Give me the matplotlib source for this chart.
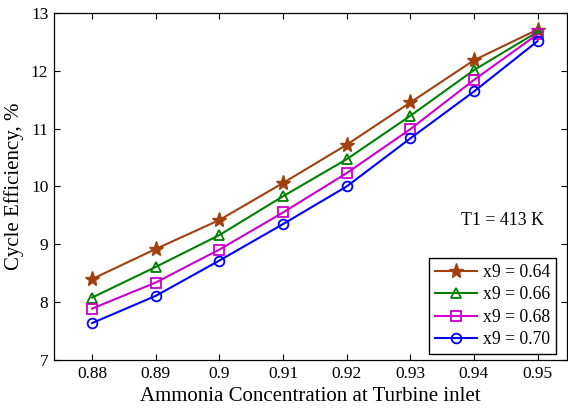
import matplotlib
matplotlib.use("Agg")
import matplotlib.pyplot as plt

# data
conc = [0.88, 0.89, 0.90, 0.91, 0.92, 0.93, 0.94, 0.95]
eff_064 = [8.40, 8.92, 9.42, 10.06, 10.72, 11.45, 12.18, 12.71]
eff_066 = [8.08, 8.61, 9.16, 9.83, 10.47, 11.22, 12.01, 12.67]
eff_068 = [7.89, 8.34, 8.91, 9.55, 10.23, 10.99, 11.84, 12.63]
eff_070 = [7.64, 8.11, 8.72, 9.35, 10.00, 10.83, 11.64, 12.51]
labels = ["x9 = 0.64", "x9 = 0.66", "x9 = 0.68", "x9 = 0.70"]
xticks = [0.88, 0.89, 0.90, 0.91, 0.92, 0.93, 0.94, 0.95]
xtick_labels = ["0.88", "0.89", "0.9", "0.91", "0.92", "0.93", "0.94", "0.95"]
yticks = [7, 8, 9, 10, 11, 12, 13]


def main():
    plt.rcParams['font.family'] = ['Liberation Serif', 'DejaVu Serif']
    fig = plt.figure(figsize=(5.68, 4.12), dpi=100)
    ax = fig.add_axes([0.095, 0.126, 0.903, 0.843])

    styles = [
        (eff_064, '#a0410d', '*', 11),
        (eff_066, '#008000', '^', 7.5),
        (eff_068, '#cc00cc', 's', 7),
        (eff_070, '#0000ff', 'o', 7),
    ]
    for (vals, col, mk, ms), lab in zip(styles, labels):
        if mk == '*':
            ax.plot(conc, vals, color=col, marker=mk, markersize=ms,
                    linewidth=1.5, label=lab)
        else:
            ax.plot(conc, vals, color=col, marker=mk, markersize=ms,
                    markerfacecolor='none', markeredgewidth=1.3,
                    linewidth=1.5, label=lab)

    ax.set_xlim(0.874, 0.9546)
    ax.set_ylim(7, 13)
    ax.set_xticks(xticks)
    ax.set_xticklabels(xtick_labels)
    ax.set_yticks(yticks)
    ax.tick_params(direction='in', top=True, right=True, labelsize=12.5,
                   length=4, width=0.8, pad=4)
    for sp in ax.spines.values():
        sp.set_linewidth(0.9)

    ax.set_xlabel("Ammonia Concentration at Turbine inlet", fontsize=15, labelpad=4)
    ax.set_ylabel("Cycle Efficiency, %", fontsize=15, labelpad=5)

    ax.text(0.938, 9.42, "T1 = 413 K", fontsize=12.8, ha='left', va='center')

    leg = ax.legend(loc='lower right', bbox_to_anchor=(0.979, 0.017),
                    fontsize=12.7, fancybox=False,
                    framealpha=1, edgecolor='black', borderaxespad=0,
                    handlelength=2.4, labelspacing=0.3, borderpad=0.35,
                    handletextpad=0.3)
    leg.get_frame().set_linewidth(1.0)

    fig.savefig("out.png", dpi=100)


if __name__ == "__main__":
    main()
